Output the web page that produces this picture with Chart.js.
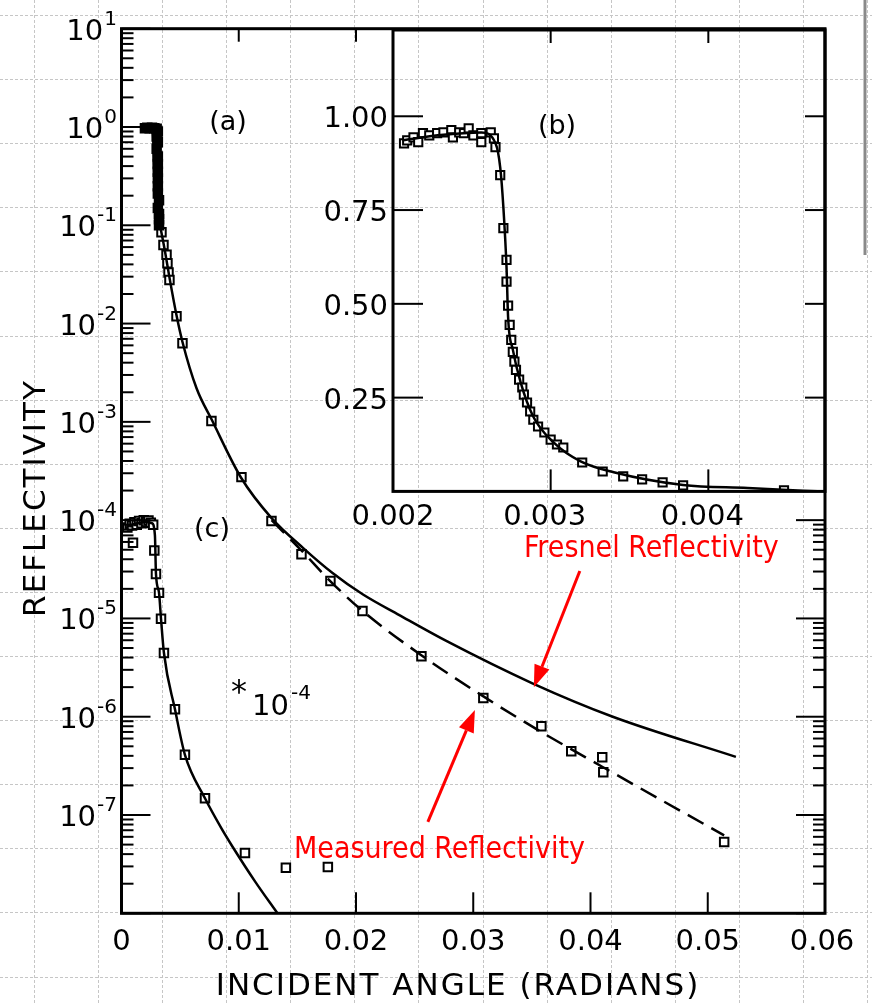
<!DOCTYPE html>
<html>
<head>
<meta charset="utf-8">
<script src="https://cdn.jsdelivr.net/npm/chart.js@4.4.1/dist/chart.umd.min.js"></script>
<style>
  html, body { margin:0; padding:0; background:#fff; }
  #wrap { position:relative; width:872px; height:1003px; }
  #wrap canvas { position:absolute; left:0; top:0; }
</style>
</head>
<body>
<div id="wrap">
  <canvas id="mainChart" width="872" height="1003"></canvas>
  <canvas id="insetChart" width="872" height="1003"></canvas>
</div>
<script>
/* ---- data ---- */

// (a) Fresnel curve, log panel
const fresnelAngle = [0.0020, 0.0026, 0.0027, 0.00275, 0.0028, 0.0030, 0.0032, 0.0034, 0.0037, 0.0041, 0.0047, 0.0052, 0.0064, 0.0077, 0.0102, 0.0128, 0.0155, 0.0180, 0.0206, 0.0237, 0.0277, 0.0350, 0.0419, 0.0524];
const fresnelR     = [0.93, 0.96, 0.80, 0.45, 0.30, 0.16, 0.11, 0.085, 0.055, 0.029, 0.012, 0.0065, 0.0022, 0.00105, 0.00027, 0.000105, 0.000052, 0.000029, 0.0000175, 0.0000108, 0.0000059, 0.0000022, 0.0000010, 0.00000039];

// (a) dashed fit through the measured points
const fitAngle = [0.0128, 0.0155, 0.0178, 0.0206, 0.0256, 0.0309, 0.0358, 0.0410, 0.0514];
const fitR     = [1.0e-4, 4.7e-5, 2.4e-5, 1.18e-5, 4.2e-6, 1.6e-6, 7.0e-7, 3.1e-7, 6.2e-8];

// (a) dense block of squares near the critical angle
const clusterAngle = [0.0020, 0.0022, 0.0024, 0.0026, 0.0028, 0.0030, 0.0031, 0.0030, 0.0031, 0.0030, 0.0031, 0.0031, 0.0031, 0.0031, 0.0031, 0.0031, 0.0032, 0.0031, 0.0032, 0.0032, 0.0032];
const clusterR     = [0.97, 0.98, 0.97, 0.98, 0.97, 0.96, 0.90, 0.80, 0.70, 0.60, 0.50, 0.42, 0.35, 0.30, 0.25, 0.21, 0.18, 0.15, 0.13, 0.115, 0.10];

// (a) measured squares below R = 0.1
const measAngle = [0.00341, 0.00358, 0.00384, 0.00392, 0.00401, 0.00409, 0.00469, 0.0052, 0.00767, 0.01023, 0.01279, 0.01535, 0.01782, 0.02055, 0.02558, 0.03086, 0.03581, 0.03836, 0.0410, 0.04109, 0.0514];
const measR     = [0.085, 0.063, 0.050, 0.041, 0.033, 0.0277, 0.0119, 0.0063, 1.02e-3, 2.74e-4, 9.8e-5, 4.5e-5, 2.4e-5, 1.19e-5, 4.13e-6, 1.55e-6, 8.0e-7, 4.46e-7, 3.88e-7, 2.73e-7, 5.3e-8];

// (c) curve (x 10^-4)
const cFitAngle = [0.0004, 0.0012, 0.0020, 0.0026, 0.00285, 0.00294, 0.0032, 0.00337, 0.00362, 0.00456, 0.00541, 0.00712, 0.0085, 0.0095, 0.0114, 0.0133];
const cFitR     = [8.6e-5, 9.2e-5, 9.6e-5, 9.3e-5, 7.0e-5, 2.83e-5, 1.82e-5, 9.9e-6, 4.45e-6, 1.19e-6, 4.1e-7, 1.48e-7, 7.4e-8, 4.7e-8, 2.1e-8, 1.0e-8];
const cAngle = [0.0005, 0.0007, 0.0009, 0.00098, 0.0011, 0.0013, 0.0015, 0.0017, 0.0019, 0.0021, 0.0023, 0.0025, 0.0027, 0.0028, 0.00294, 0.0032, 0.00337, 0.00362, 0.00456, 0.00541, 0.00712, 0.01053, 0.01402, 0.0176];
const cR     = [8.4e-5, 9.2e-5, 8.8e-5, 5.9e-5, 9.5e-5, 9.0e-5, 9.8e-5, 9.3e-5, 1.0e-4, 9.6e-5, 9.9e-5, 9.4e-5, 9.0e-5, 4.9e-5, 2.83e-5, 1.82e-5, 9.9e-6, 4.45e-6, 1.19e-6, 4.1e-7, 1.48e-7, 4.1e-8, 2.9e-8, 2.96e-8];

// (b) inset, linear
const insetFitAngle = [0.00206, 0.00230, 0.00256, 0.00265, 0.00268, 0.00270, 0.00272, 0.00273, 0.00276, 0.00281, 0.00289, 0.00302, 0.00319, 0.00340, 0.00384, 0.00425, 0.00460, 0.00474];
const insetFitR     = [0.936, 0.950, 0.957, 0.928, 0.864, 0.758, 0.598, 0.465, 0.378, 0.290, 0.199, 0.130, 0.080, 0.051, 0.017, 0.009, 0.002, 0.0];
const insetAngle = [0.00207, 0.00209, 0.00213, 0.00216, 0.00219, 0.00223, 0.00228, 0.00232, 0.00237, 0.00238, 0.00242, 0.00245, 0.00248, 0.00251, 0.00256, 0.00256, 0.00262, 0.00264, 0.00265,
                    0.00268, 0.0027, 0.00272, 0.00272, 0.00273, 0.00274, 0.00275, 0.00276, 0.00277, 0.00278, 0.0028, 0.00282, 0.00283, 0.00285, 0.00287, 0.00289, 0.00292, 0.00296, 0.0030, 0.00304, 0.00308,
                    0.0032, 0.00333, 0.00346, 0.00358, 0.00371, 0.00384, 0.00448];
const insetR     = [0.928, 0.936, 0.944, 0.931, 0.955, 0.949, 0.955, 0.957, 0.963, 0.944, 0.957, 0.955, 0.968, 0.949, 0.955, 0.931, 0.957, 0.941, 0.918,
                    0.843, 0.702, 0.617, 0.559, 0.495, 0.444, 0.404, 0.372, 0.346, 0.324, 0.298, 0.277, 0.258, 0.237, 0.213, 0.191, 0.173, 0.157, 0.138, 0.125, 0.117,
                    0.077, 0.053, 0.040, 0.032, 0.024, 0.016, 0.003];

// tick values
const mainXTicks = [0.01, 0.02, 0.03, 0.04, 0.05];
const mainXLabels = ["0", "0.01", "0.02", "0.03", "0.04", "0.05", "0.06"];
const mainTopTicks = [0.01, 0.02];
const decades = [-8, -7, -6, -5, -4, -3, -2, -1, 0, 1];
const labelledDecades = [-7, -6, -5, -4, -3, -2, -1, 0, 1];
const insetXTicks = [0.003, 0.004];
const insetXLabels = ["0.002", "0.003", "0.004"];
const insetYTicks = [0.25, 0.50, 0.75, 1.00];

const pts = (xs, ys) => xs.map((x, i) => ({ x: x, y: ys[i] }));

const TICK_FONT = "29px 'DejaVu Sans'";
const SUP_FONT = "20px 'DejaVu Sans'";
const INSET_BOTTOM = 491.4;

function line(ctx, x1, y1, x2, y2){
  ctx.beginPath(); ctx.moveTo(x1, y1); ctx.lineTo(x2, y2); ctx.stroke();
}

function arrow(ctx, x1, y1, x2, y2){
  const a = Math.atan2(y2 - y1, x2 - x1);
  const L = 22, W = 8;
  const bx = x2 - L * Math.cos(a), by = y2 - L * Math.sin(a);
  line(ctx, x1, y1, bx, by);
  ctx.beginPath();
  ctx.moveTo(x2, y2);
  ctx.lineTo(bx + W * Math.sin(a), by - W * Math.cos(a));
  ctx.lineTo(bx - W * Math.sin(a), by + W * Math.cos(a));
  ctx.closePath();
  ctx.fill();
}

function power(ctx, exp, right, y){
  ctx.textAlign = "left";
  ctx.font = SUP_FONT;
  const sup = String(exp);
  const sw = ctx.measureText(sup).width;
  ctx.fillText(sup, right - sw, y - 4);
  ctx.font = TICK_FONT;
  const bw = ctx.measureText("10").width;
  ctx.fillText("10", right - sw - bw - 1, y + 11);
}

/* ---- main panel decorations ---- */
const mainDecor = {
  id: "mainDecor",
  beforeDraw(chart){
    const ctx = chart.ctx;
    ctx.save();
    ctx.strokeStyle = "#c6c6c6";
    ctx.lineWidth = 1;
    ctx.setLineDash([3, 2]);
    for(let x = 33.8; x < chart.width; x += 64.1) line(ctx, Math.round(x) + 0.5, 0, Math.round(x) + 0.5, chart.height);
    for(let y = 15; y < chart.height; y += 64.1) line(ctx, 0, Math.round(y) + 0.5, chart.width, Math.round(y) + 0.5);
    ctx.setLineDash([]);
    ctx.strokeStyle = "#8a8a8a";
    ctx.lineWidth = 3;
    line(ctx, 865, 0, 865, 255);
    ctx.restore();
  },
  afterDraw(chart){
    const ctx = chart.ctx;
    const { left, right, top, bottom } = chart.chartArea;
    const xs = chart.scales.x, ys = chart.scales.y;
    ctx.save();
    ctx.strokeStyle = "#000";
    ctx.fillStyle = "#000";

    // frame
    ctx.lineWidth = 3;
    ctx.strokeRect(left, top, right - left, bottom - top);

    // log ticks, left and right
    ctx.lineWidth = 2;
    decades.forEach(k => {
      for(let m = 1; m <= 9; m++){
        if(k === 1 && m > 1) break;
        const py = ys.getPixelForValue(m * Math.pow(10, k));
        const len = m === 1 ? 29 : 12;
        line(ctx, left, py, left + len, py);
        if(py > INSET_BOTTOM + 3) line(ctx, right - len, py, right, py);
      }
    });
    // x ticks
    mainXTicks.forEach(v => {
      const px = xs.getPixelForValue(v);
      line(ctx, px, bottom, px, bottom - 21);
    });
    mainTopTicks.forEach(v => {
      const px = xs.getPixelForValue(v);
      line(ctx, px, top, px, top + 13);
    });

    // tick labels
    labelledDecades.forEach(k => power(ctx, k, 117, ys.getPixelForValue(Math.pow(10, k))));
    ctx.font = TICK_FONT;
    ctx.textAlign = "center";
    mainXLabels.forEach((t, i) => {
      const px = xs.getPixelForValue(i * 0.01);
      ctx.fillText(t, px - (i === 6 ? 3 : 0), 950);
    });

    // axis titles
    ctx.font = "31px 'DejaVu Sans'";
    ctx.letterSpacing = "2px";
    ctx.fillText("INCIDENT ANGLE (RADIANS)", 458, 995);
    ctx.save();
    ctx.translate(45, 498);
    ctx.rotate(-Math.PI / 2);
    ctx.fillText("REFLECTIVITY", 0, 0);
    ctx.restore();
    ctx.letterSpacing = "0px";

    // panel tags
    ctx.font = "27px 'DejaVu Sans'";
    ctx.fillText("(a)", 228, 130);
    ctx.fillText("(c)", 212, 537);
    ctx.textAlign = "left";
    ctx.font = "32px 'DejaVu Sans'";
    ctx.fillText("*", 231, 702);
    ctx.font = TICK_FONT;
    ctx.fillText("10", 252, 715);
    ctx.font = SUP_FONT;
    ctx.fillText("-4", 291, 699);

    // red annotations
    ctx.fillStyle = "#ff0000";
    ctx.strokeStyle = "#ff0000";
    ctx.lineWidth = 3;
    ctx.font = "30px 'DejaVu Sans Condensed', 'DejaVu Sans'";
    ctx.fillText("Fresnel Reflectivity", 524, 557, 263);
    ctx.fillText("Measured Reflectivity", 294, 858, 298);
    arrow(ctx, xs.getPixelForValue(0.03909), ys.getPixelForValue(3.04e-5),
               xs.getPixelForValue(0.03517), ys.getPixelForValue(2.0e-6));
    arrow(ctx, xs.getPixelForValue(0.02613), ys.getPixelForValue(8.5e-8),
               xs.getPixelForValue(0.03014), ys.getPixelForValue(1.17e-6));
    ctx.restore();
  }
};

const squares = {
  showLine: false,
  pointStyle: "rect",
  pointRadius: 6,
  pointBorderWidth: 2,
  pointBorderColor: "#000",
  pointBackgroundColor: "#fff"
};
const curve = {
  borderColor: "#000",
  borderWidth: 2.5,
  pointRadius: 0,
  fill: false,
  cubicInterpolationMode: "monotone"
};

new Chart(document.getElementById("mainChart"), {
  type: "line",
  data: {
    datasets: [
      { ...curve, data: pts(fresnelAngle, fresnelR) },
      { ...curve, borderDash: [18, 9], data: pts(fitAngle, fitR) },
      { ...curve, data: pts(cFitAngle, cFitR) },
      { ...squares, pointBackgroundColor: "#000", data: pts(clusterAngle, clusterR) },
      { ...squares, data: pts(measAngle, measR) },
      { ...squares, data: pts(cAngle, cR) }
    ]
  },
  options: {
    responsive: false,
    animation: false,
    layout: { padding: { left: 121.5, right: 47, top: 28.7, bottom: 89.7 } },
    plugins: { legend: { display: false }, tooltip: { enabled: false } },
    scales: {
      x: { type: "linear", min: 0, max: 0.06, display: false },
      y: { type: "logarithmic", min: 1e-8, max: 10, display: false }
    }
  },
  plugins: [mainDecor]
});

/* ---- inset (b) ---- */
const insetDecor = {
  id: "insetDecor",
  afterDraw(chart){
    const ctx = chart.ctx;
    const { left, right, top, bottom } = chart.chartArea;
    const xs = chart.scales.x, ys = chart.scales.y;
    ctx.save();
    ctx.strokeStyle = "#000";
    ctx.fillStyle = "#000";
    ctx.lineWidth = 3;
    ctx.strokeRect(left, top, right - left, bottom - top);
    ctx.lineWidth = 2;
    insetYTicks.forEach(v => {
      const py = ys.getPixelForValue(v);
      line(ctx, left, py, left + 30, py);
      line(ctx, right - 20, py, right, py);
    });
    insetXTicks.forEach(v => {
      const px = xs.getPixelForValue(v);
      line(ctx, px, top, px, top + 13);
      line(ctx, px, bottom, px, bottom - 22);
    });
    ctx.font = TICK_FONT;
    ctx.textAlign = "right";
    insetYTicks.forEach(v => ctx.fillText(v.toFixed(2), 388, ys.getPixelForValue(v) + 11));
    ctx.textAlign = "center";
    insetXLabels.forEach((t, i) => {
      const px = xs.getPixelForValue(0.002 + i * 0.001);
      ctx.fillText(t, px - (i ? 6 : 0), 525);
    });
    ctx.font = "27px 'DejaVu Sans'";
    ctx.fillText("(b)", 557, 134);
    ctx.restore();
  }
};

new Chart(document.getElementById("insetChart"), {
  type: "line",
  data: {
    datasets: [
      { ...curve, data: pts(insetFitAngle, insetFitR) },
      { ...squares, pointRadius: 5.8, data: pts(insetAngle, insetR) }
    ]
  },
  options: {
    responsive: false,
    animation: false,
    layout: { padding: { left: 393, right: 47, top: 30, bottom: 1003 - INSET_BOTTOM } },
    plugins: { legend: { display: false }, tooltip: { enabled: false } },
    scales: {
      x: { type: "linear", min: 0.002, max: 0.00474, display: false },
      y: { type: "linear", min: 0, max: 1.23, display: false }
    }
  },
  plugins: [insetDecor]
});
</script>
</body>
</html>
